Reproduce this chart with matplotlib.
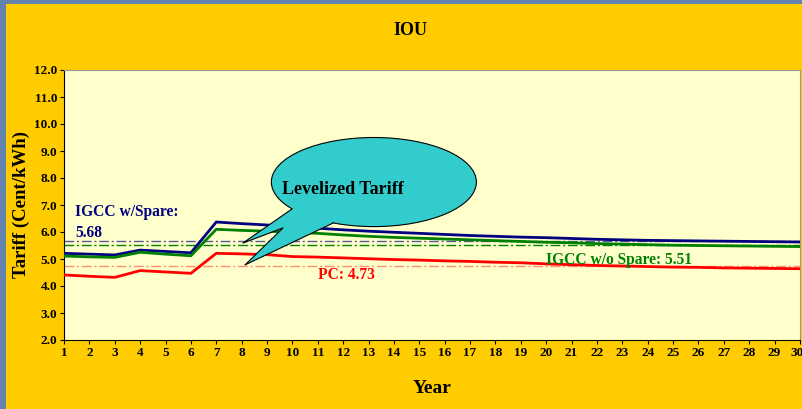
#!/usr/bin/env python
# Levelized tariff chart (IOU), years 1-30
import matplotlib.pyplot as plt
from matplotlib.patches import Ellipse, Polygon, Rectangle
from matplotlib.transforms import ScaledTranslation

years = list(range(1, 31))
igcc_spare = [5.21, 5.18, 5.15, 5.33, 5.28, 5.23, 6.37, 6.31, 6.26, 6.20,
              6.14, 6.08, 6.03, 5.99, 5.95, 5.91, 5.87, 5.84, 5.81, 5.79,
              5.76, 5.73, 5.71, 5.69, 5.68, 5.67, 5.66, 5.65, 5.64, 5.63]
igcc_nospare = [5.11, 5.08, 5.06, 5.25, 5.18, 5.12, 6.10, 6.06, 6.03, 5.99,
                5.95, 5.89, 5.84, 5.80, 5.77, 5.74, 5.71, 5.68, 5.65, 5.62,
                5.60, 5.57, 5.55, 5.53, 5.51, 5.50, 5.49, 5.48, 5.47, 5.46]
pc = [4.41, 4.36, 4.32, 4.57, 4.52, 4.47, 5.21, 5.19, 5.16, 5.09,
      5.07, 5.04, 5.01, 4.98, 4.96, 4.93, 4.91, 4.88, 4.86, 4.82,
      4.79, 4.76, 4.74, 4.72, 4.70, 4.69, 4.67, 4.66, 4.65, 4.64]
lev_spare = 5.68
lev_nospare = 5.51
lev_pc = 4.73

plt.rcParams['font.family'] = ['Liberation Serif', 'DejaVu Serif']
plt.rcParams['font.weight'] = 'bold'

fig = plt.figure(figsize=(8.03, 4.09), dpi=100)
fig.patch.set_facecolor('#6383AD')
fig.patches.append(Rectangle((6/803, 0), 1, 405/409, transform=fig.transFigure,
                             facecolor='#FFCC00', edgecolor='none', zorder=-1))

ax = fig.add_axes([64/803, 69/409, 736/803, 270/409])
ax.set_facecolor('#FFFFCC')

dd = (0, (7, 2, 1.5, 2))
ax.axhline(lev_spare, color='#5A5A9E', lw=1, ls=dd, zorder=2)
ax.axhline(lev_nospare, color='#008000', lw=1, ls=dd, zorder=2)
ax.axhline(lev_pc, color='#FF9077', lw=1, ls=dd, zorder=2)

ax.plot(years, igcc_spare, color='#000080', lw=2, zorder=3)
ax.plot(years, igcc_nospare, color='#008000', lw=2, zorder=3)
ax.plot(years, pc, color='#FF0000', lw=2, zorder=3)

ax.set_xlim(1, 30)
ax.set_ylim(2, 12)
ax.set_xticks(years)
ax.set_yticks([2 + i for i in range(11)])
ax.set_yticklabels(['%.1f' % (2 + i) for i in range(11)])
ax.tick_params(axis='both', direction='out', length=3, width=0.8,
               labelsize=9.5, pad=2)
ax.tick_params(axis='x', pad=2)
last = ax.get_xticklabels()[-1]
last.set_transform(last.get_transform() + ScaledTranslation(-3/100, 0, fig.dpi_scale_trans))
for s in ['top', 'right']:
    ax.spines[s].set_color('#999999')
for s in ['left', 'bottom']:
    ax.spines[s].set_color('black')

ax.set_ylabel('Tariff (Cent/kWh)', fontsize=13.5, fontweight='bold', labelpad=3)
ax.set_xlabel('Year', fontsize=14, fontweight='bold', labelpad=15)
fig.text(0.511, 0.925, 'IOU', ha='center', va='center', fontsize=13,
         fontweight='bold')

# callout bubble
ell = Ellipse((13.21, 7.85), 8.08, 3.30, facecolor='#33CCCC',
              edgecolor='black', lw=0.8, zorder=5, clip_on=False)
ax.add_patch(ell)
tail = [(9.98, 6.85), (8.05, 5.59), (9.63, 6.15), (8.13, 4.78), (11.60, 6.33)]
ax.add_patch(Polygon(tail + [(10.9, 7.3)], closed=True, facecolor='#33CCCC',
                     edgecolor='none', zorder=6))
ax.plot([p[0] for p in tail], [p[1] for p in tail], color='black', lw=0.8,
        zorder=7)
ax.text(9.6, 7.58, 'Levelized Tariff', fontsize=13, fontweight='bold',
        ha='left', va='center', zorder=8)

ax.text(1.43, 6.74, 'IGCC w/Spare:', color='#000080', fontsize=11.2,
        fontweight='bold', va='center')
ax.text(1.43, 5.96, '%.2f' % lev_spare, color='#000080', fontsize=11.2,
        fontweight='bold', va='center')
ax.text(11.0, 4.40, 'PC: %.2f' % lev_pc, color='#FF0000', fontsize=11.2,
        fontweight='bold', va='center')
ax.text(20.0, 4.96, 'IGCC w/o Spare: %.2f' % lev_nospare, color='#008000',
        fontsize=11.2, fontweight='bold', va='center', zorder=4)

plt.savefig('out.png', dpi=100, facecolor=fig.get_facecolor())
